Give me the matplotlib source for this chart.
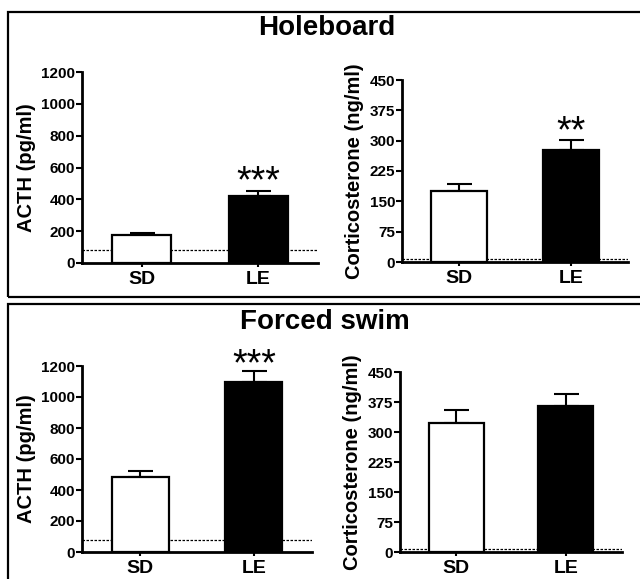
import numpy as np
import matplotlib
matplotlib.use("Agg")
import matplotlib.pyplot as plt
from matplotlib.patches import Rectangle

plt.rcParams['font.family'] = ['Liberation Sans', 'DejaVu Sans']
plt.rcParams['font.weight'] = 'bold'

groups = ['SD', 'LE']

# Holeboard
hb_acth = [176, 421]
hb_acth_err = [12, 33]
hb_cort = [175, 276]
hb_cort_err = [17, 26]

# Forced swim
fs_acth = [482, 1100]
fs_acth_err = [40, 70]
fs_cort = [322, 365]
fs_cort_err = [33, 31]

acth_limit = 80      # detection limit (dotted line)
cort_limit = 8

acth_ticks = [0, 200, 400, 600, 800, 1000, 1200]
cort_ticks = [0, 75, 150, 225, 300, 375, 450]

W, H = 640, 579
fig = plt.figure(figsize=(W / 100, H / 100), dpi=100)


def px_axes(x0, x1, ytop, ybot):
    return fig.add_axes([x0 / W, 1 - ybot / H, (x1 - x0) / W, (ybot - ytop) / H])


def panel(ax, vals, errs, ticks, ymax, label, limit, stars=None, star_y=None):
    x = np.arange(len(groups))
    ax.axhline(limit, color='black', lw=0.9, ls=(0, (2, 1.2)), zorder=1)
    ax.bar(x, vals, width=0.5, color=['white', 'black'], edgecolor='black',
           linewidth=1.6, zorder=2)
    ax.errorbar(x, vals, yerr=[np.zeros(len(vals)), errs], fmt='none',
                ecolor='black', elinewidth=1.5, capsize=9, capthick=1.5, zorder=1)
    ax.set_xlim(-0.51, 1.51)
    ax.set_ylim(0, ymax)
    ax.set_yticks(ticks)
    ax.set_xticks(x)
    ax.set_xticklabels(groups, fontsize=14, fontweight='bold')
    for t in ax.get_yticklabels():
        t.set_fontsize(11)
        t.set_fontweight('bold')
    ax.tick_params(axis='y', length=4, width=1.5, pad=1)
    ax.tick_params(axis='x', length=3, width=1.5, pad=3)
    for s in ['top', 'right']:
        ax.spines[s].set_visible(False)
    for s in ['left', 'bottom']:
        ax.spines[s].set_linewidth(2)
    ax.set_ylabel(label, fontsize=14.5, fontweight='bold', labelpad=4)
    if stars:
        ax.text(1, star_y, stars, ha='center', va='baseline', fontsize=27,
                fontweight='normal', clip_on=False)


ax1 = px_axes(82, 318, 72, 263)
panel(ax1, hb_acth, hb_acth_err, acth_ticks, 1200, 'ACTH (pg/ml)', acth_limit, '***', 446)

ax2 = px_axes(402, 628, 80, 262)
panel(ax2, hb_cort, hb_cort_err, cort_ticks, 450, 'Corticosterone (ng/ml)', cort_limit, '**', 295)

ax3 = px_axes(82, 312, 366, 552)
panel(ax3, fs_acth, fs_acth_err, acth_ticks, 1200, 'ACTH (pg/ml)', acth_limit, '***', 1143)

ax4 = px_axes(400, 622, 372, 552)
panel(ax4, fs_cort, fs_cort_err, cort_ticks, 450, 'Corticosterone (ng/ml)', cort_limit)

fig.text(327 / W, 1 - 28 / H, 'Holeboard', ha='center', va='center',
         fontsize=20, fontweight='bold')
fig.text(325 / W, 1 - 322 / H, 'Forced swim', ha='center', va='center',
         fontsize=20, fontweight='bold')

# panel frames
fig.patches.append(Rectangle((8 / W, 1 - 297 / H), 1.0, (297 - 12) / H,
                             transform=fig.transFigure, fill=False,
                             edgecolor='black', lw=1.6))
fig.patches.append(Rectangle((8 / W, -0.1), 1.0, (1 - 304 / H) + 0.1,
                             transform=fig.transFigure, fill=False,
                             edgecolor='black', lw=1.6))

fig.savefig('out.png', dpi=100)
